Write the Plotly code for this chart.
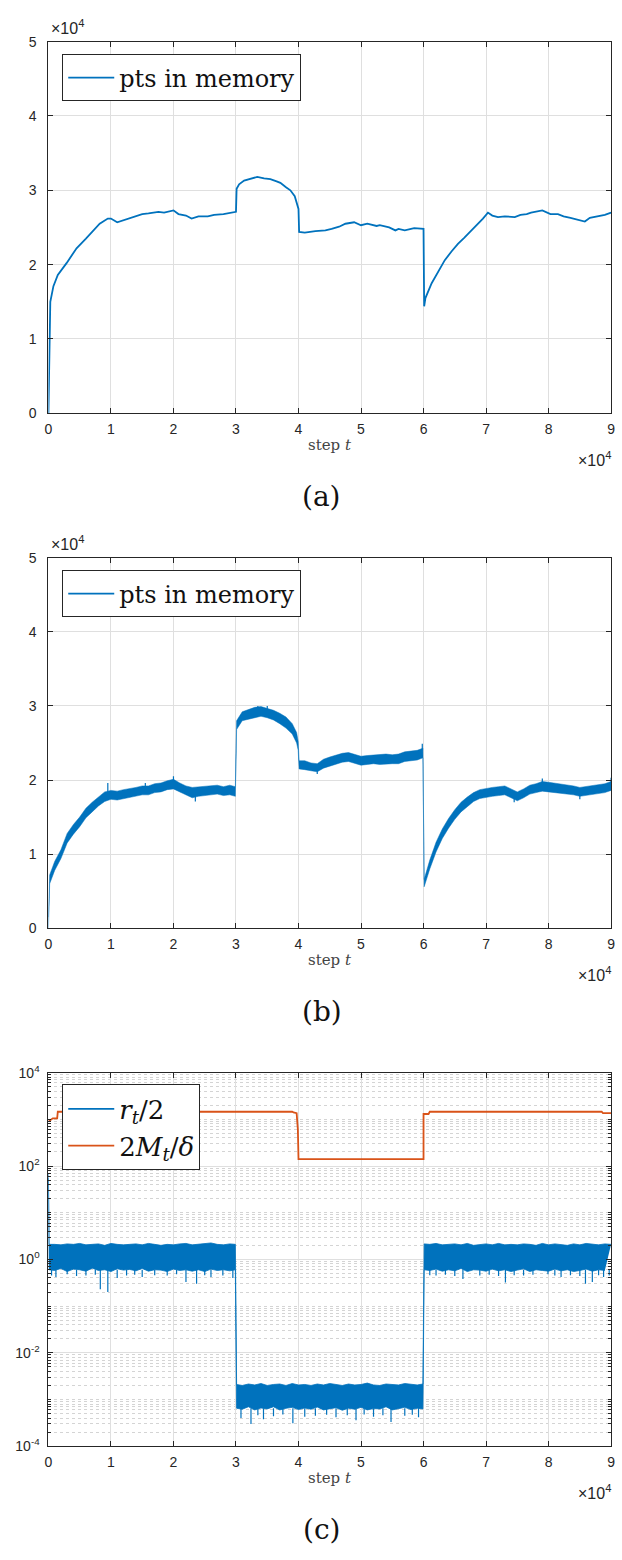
import plotly.graph_objects as go

# ---------------- data (t in units of 1e4 steps, (a)/(b) values in units of 1e4) ----------------
t_a = [0, 0.015, 0.03, 0.08, 0.15, 0.29, 0.45, 0.6, 0.82, 0.95, 1.0, 1.1, 1.2, 1.34, 1.5, 1.6, 1.76,
       1.85, 2.0, 2.08, 2.2, 2.29, 2.4, 2.55, 2.65, 2.8, 2.9, 2.98, 3.0, 3.01, 3.05, 3.13, 3.25,
       3.34, 3.45, 3.55, 3.65, 3.71, 3.8, 3.87, 3.94, 3.98, 4.0, 4.01, 4.1, 4.27, 4.43, 4.53, 4.65,
       4.75, 4.89, 5.0, 5.1, 5.25, 5.3, 5.45, 5.55, 5.6, 5.7, 5.85, 5.97, 6.0, 6.01, 6.03, 6.13,
       6.25, 6.34, 6.45, 6.55, 6.65, 6.71, 6.8, 6.87, 6.95, 7.03, 7.1, 7.19, 7.3, 7.46, 7.55, 7.65,
       7.72, 7.9, 8.03, 8.15, 8.24, 8.35, 8.5, 8.58, 8.66, 8.8, 8.9, 9.0]
pts_a = [0.0, 1.2, 1.5, 1.71, 1.86, 2.02, 2.22, 2.35, 2.55, 2.62, 2.62, 2.57, 2.60, 2.64, 2.68,
         2.69, 2.71, 2.70, 2.73, 2.68, 2.66, 2.62, 2.65, 2.65, 2.67, 2.68, 2.69, 2.70, 2.71, 3.02,
         3.08, 3.13, 3.16, 3.18, 3.16, 3.15, 3.12, 3.10, 3.04, 3.00, 2.92, 2.80, 2.75, 2.44, 2.43,
         2.45, 2.46, 2.48, 2.51, 2.55, 2.57, 2.53, 2.55, 2.52, 2.53, 2.50, 2.46, 2.48, 2.46, 2.49,
         2.48, 2.48, 1.44, 1.55, 1.75, 1.93, 2.06, 2.18, 2.28, 2.36, 2.41, 2.49, 2.55, 2.62, 2.70,
         2.66, 2.64, 2.65, 2.64, 2.67, 2.68, 2.70, 2.73, 2.68, 2.68, 2.65, 2.63, 2.60, 2.58, 2.63,
         2.65, 2.67, 2.70]

t_b = [0, 0.02, 0.1, 0.2, 0.3, 0.4, 0.5, 0.6, 0.7, 0.8, 0.9, 1.0, 1.1, 1.2, 1.3, 1.4, 1.5, 1.6,
       1.7, 1.8, 1.9, 2.0, 2.1, 2.2, 2.3, 2.4, 2.5, 2.6, 2.7, 2.8, 2.9, 2.99, 3.01, 3.1, 3.2, 3.3,
       3.4, 3.5, 3.6, 3.7, 3.8, 3.9, 3.97, 3.995, 4.01, 4.1, 4.2, 4.3, 4.4, 4.5, 4.6, 4.7, 4.8,
       4.9, 5.0, 5.1, 5.2, 5.3, 5.4, 5.5, 5.6, 5.7, 5.8, 5.9, 5.99, 6.01, 6.1, 6.2, 6.3, 6.4,
       6.5, 6.6, 6.7, 6.8, 6.9, 7.0, 7.1, 7.2, 7.3, 7.4, 7.5, 7.6, 7.7, 7.8, 7.9, 8.0, 8.1, 8.2,
       8.3, 8.4, 8.5, 8.6, 8.7, 8.8, 8.9, 9.0]
pts_b_hi = [0.15, 0.72, 0.90, 1.06, 1.28, 1.40, 1.50, 1.62, 1.70, 1.77, 1.84, 1.86, 1.85, 1.87,
            1.88, 1.90, 1.92, 1.92, 1.95, 1.96, 1.99, 2.01, 1.96, 1.92, 1.90, 1.91, 1.92, 1.92,
            1.93, 1.91, 1.93, 1.91, 2.80, 2.92, 2.95, 2.98, 2.99, 2.97, 2.94, 2.90, 2.85, 2.76,
            2.64, 2.52, 2.26, 2.26, 2.23, 2.22, 2.28, 2.31, 2.34, 2.36, 2.37, 2.35, 2.32, 2.33,
            2.34, 2.34, 2.35, 2.34, 2.35, 2.38, 2.39, 2.40, 2.43, 0.66, 0.92, 1.16, 1.34, 1.48,
            1.60, 1.70, 1.77, 1.83, 1.87, 1.89, 1.90, 1.91, 1.92, 1.88, 1.84, 1.88, 1.93, 1.95,
            1.98, 1.97, 1.96, 1.95, 1.94, 1.92, 1.90, 1.91, 1.93, 1.94, 1.95, 1.98]
pts_b_lo = [0.0, 0.60, 0.78, 0.94, 1.15, 1.27, 1.37, 1.49, 1.57, 1.65, 1.71, 1.74, 1.73, 1.75,
            1.76, 1.78, 1.80, 1.80, 1.83, 1.84, 1.87, 1.88, 1.84, 1.79, 1.76, 1.78, 1.79, 1.79,
            1.81, 1.79, 1.80, 1.78, 2.68, 2.80, 2.82, 2.85, 2.86, 2.84, 2.81, 2.76, 2.70, 2.62,
            2.50, 2.40, 2.15, 2.14, 2.12, 2.11, 2.16, 2.19, 2.22, 2.24, 2.25, 2.23, 2.20, 2.21,
            2.22, 2.21, 2.22, 2.22, 2.22, 2.25, 2.26, 2.27, 2.30, 0.56, 0.80, 1.03, 1.21, 1.35,
            1.47, 1.57, 1.64, 1.71, 1.75, 1.77, 1.78, 1.79, 1.80, 1.76, 1.72, 1.76, 1.81, 1.83,
            1.85, 1.84, 1.83, 1.82, 1.82, 1.80, 1.78, 1.79, 1.81, 1.82, 1.83, 1.86]
spike_b_t = [0.95, 1.55, 2.0, 2.35, 3.35, 3.5, 3.95, 4.3, 5.98, 7.45, 7.9, 8.5, 9.0]
spike_b_from = [1.84, 1.90, 1.98, 1.78, 2.97, 2.95, 2.60, 2.14, 2.40, 1.76, 1.96, 1.80, 1.96]
spike_b_to = [1.96, 1.96, 2.05, 1.71, 3.00, 3.00, 2.66, 2.08, 2.49, 1.70, 2.02, 1.74, 2.03]

t_c = [0, 0.01, 0.1, 0.2, 0.3, 0.4, 0.5, 0.6, 0.7, 0.8, 0.9, 1.0, 1.1, 1.2, 1.3, 1.4, 1.5, 1.6,
       1.7, 1.8, 1.9, 2.0, 2.1, 2.2, 2.3, 2.4, 2.5, 2.6, 2.7, 2.8, 2.9, 2.99, 3.01, 3.1, 3.2, 3.3,
       3.4, 3.5, 3.6, 3.7, 3.8, 3.9, 4.0, 4.1, 4.2, 4.3, 4.4, 4.5, 4.6, 4.7, 4.8, 4.9, 5.0, 5.1,
       5.2, 5.3, 5.4, 5.5, 5.6, 5.7, 5.8, 5.9, 5.99, 6.01, 6.1, 6.2, 6.3, 6.4, 6.5, 6.6, 6.7,
       6.8, 6.9, 7.0, 7.1, 7.2, 7.3, 7.4, 7.5, 7.6, 7.7, 7.8, 7.9, 8.0, 8.1, 8.2, 8.3, 8.4, 8.5,
       8.6, 8.7, 8.8, 8.9, 9.0]
r_hi = [70, 2.1, 2.1, 2.05, 2.15, 2.1, 2.2, 2.05, 2.1, 2.15, 2.0, 2.2, 2.1, 2.05, 2.1, 2.15,
        2.05, 2.2, 2.1, 2.0, 2.1, 2.05, 2.15, 2.2, 2.05, 2.1, 2.15, 2.25, 2.1, 2.05, 2.15, 2.1,
        2.1e-3, 2.0e-3, 2.15e-3, 2.05e-3, 2.2e-3, 2.0e-3, 2.1e-3, 2.15e-3, 2.0e-3, 2.2e-3,
        2.05e-3, 2.1e-3, 2.0e-3, 2.15e-3, 2.05e-3, 2.2e-3, 2.1e-3, 2.0e-3, 2.15e-3, 2.05e-3,
        2.1e-3, 2.25e-3, 2.05e-3, 2.0e-3, 2.15e-3, 2.1e-3, 2.05e-3, 2.2e-3, 2.1e-3, 2.05e-3,
        2.15e-3,
        2.15, 2.1, 2.2, 2.05, 2.1, 2.15, 2.05, 2.2, 2.0, 2.1, 2.15, 2.05, 2.2, 2.05, 2.1, 2.05,
        2.15, 2.1, 2.0, 2.2, 2.05, 2.15, 2.1, 2.0, 2.15, 2.05, 2.2, 2.1, 2.05, 2.15, 2.1]
r_lo = [55, 0.6, 0.58, 0.64, 0.55, 0.62, 0.6, 0.56, 0.65, 0.58, 0.6, 0.55, 0.63, 0.59, 0.61,
        0.57, 0.64, 0.56, 0.6, 0.59, 0.55, 0.62, 0.58, 0.6, 0.56, 0.6, 0.55, 0.62, 0.58, 0.6,
        0.57, 0.6,
        6.5e-4, 6.2e-4, 7.0e-4, 6.0e-4, 6.6e-4, 6.3e-4, 7.0e-4, 6.0e-4, 6.5e-4, 6.8e-4, 6.1e-4,
        6.6e-4, 6.2e-4, 6.9e-4, 6.0e-4, 6.4e-4, 6.7e-4, 5.9e-4, 6.5e-4, 6.2e-4, 6.8e-4, 6.0e-4,
        6.4e-4, 6.3e-4, 7.0e-4, 6.0e-4, 6.4e-4, 6.8e-4, 6.1e-4, 6.5e-4, 6.3e-4,
        0.6, 0.58, 0.62, 0.56, 0.6, 0.57, 0.64, 0.55, 0.6, 0.59, 0.56, 0.62, 0.57, 0.6, 0.55,
        0.59, 0.63, 0.55, 0.6, 0.58, 0.56, 0.62, 0.57, 0.6, 0.55, 0.58, 0.62, 0.56, 0.6, 0.58]
spike_c_t = [0.05, 0.12, 0.3, 0.45, 0.6, 0.75, 0.83, 0.95, 1.1, 1.25, 1.38, 1.5, 1.7, 1.9, 2.05,
             2.2, 2.37, 2.5, 2.6, 2.79, 2.95,
             3.08, 3.24, 3.35, 3.44, 3.6, 3.75, 3.91, 4.1, 4.27, 4.45, 4.6, 4.78, 4.92, 5.05,
             5.2, 5.35, 5.48, 5.7, 5.82, 5.92,
             6.1, 6.2, 6.35, 6.5, 6.63, 6.9, 7.05, 7.2, 7.31, 7.45, 7.6, 7.75, 7.99, 8.1, 8.2,
             8.35, 8.5, 8.59, 8.7, 8.8, 8.88, 8.97]
spike_c_from = [0.6] * 21 + [6.5e-4] * 20 + [0.6] * 22
spike_c_to = [0.45, 0.42, 0.48, 0.44, 0.45, 0.47, 0.23, 0.2, 0.4, 0.45, 0.47, 0.42, 0.46, 0.45,
              0.48, 0.33, 0.3, 0.46, 0.42, 0.45, 0.4,
              4.0e-4, 3.0e-4, 4.6e-4, 3.8e-4, 4.4e-4, 4.8e-4, 3.1e-4, 4.3e-4, 4.5e-4, 4.7e-4,
              4.2e-4, 4.6e-4, 3.6e-4, 4.8e-4, 4.3e-4, 4.6e-4, 3.3e-4, 4.5e-4, 4.7e-4, 4.2e-4,
              0.46, 0.45, 0.47, 0.44, 0.38, 0.45, 0.47, 0.44, 0.32, 0.46, 0.45, 0.47, 0.48, 0.45,
              0.42, 0.46, 0.44, 0.3, 0.33, 0.46, 0.42, 0.45]

t_m = [0, 0.06, 0.07, 0.14, 0.15, 3.9, 3.92, 3.97, 3.99, 4.0, 6.0, 6.0, 6.08, 6.1, 8.85, 8.87, 9.0]
m_val = [900, 1000, 1050, 1050, 1450, 1450, 1400, 1350, 600, 140, 140, 1300, 1300, 1450, 1450,
         1350, 1350]

x_ticks = [0, 1, 2, 3, 4, 5, 6, 7, 8, 9]
y_ticks_lin = [0, 1, 2, 3, 4, 5]
y_ticks_log = [1e-4, 1e-2, 1, 1e2, 1e4]
y_ticktext_log = ["10<sup>-4</sup>", "10<sup>-2</sup>", "10<sup>0</sup>", "10<sup>2</sup>", "10<sup>4</sup>"]

# ---------------- styling ----------------
BLUE = "#0072BD"
ORANGE = "#D95319"
AX = "#262626"
GRID = "#dfdfdf"
SANS = "Liberation Sans, Arial, sans-serif"
SERIF = "DejaVu Serif, Liberation Serif, serif"
W, H = 622, 1560

def py(p):
    return 1 - p / H

fig = go.Figure()

# (a)
fig.add_trace(go.Scatter(x=t_a, y=pts_a, mode="lines", line=dict(color=BLUE, width=1.8),
                         name="pts in memory", xaxis="x", yaxis="y", legend="legend"))

# (b)
fig.add_trace(go.Scatter(x=t_b, y=pts_b_lo, mode="lines", line=dict(color=BLUE, width=0.5),
                         showlegend=False, xaxis="x2", yaxis="y2", hoverinfo="skip"))
fig.add_trace(go.Scatter(x=t_b, y=pts_b_hi, mode="lines", line=dict(color=BLUE, width=0.5),
                         fill="tonexty", fillcolor=BLUE, showlegend=False, xaxis="x2", yaxis="y2"))
sx, sy = [], []
for t, a, b in zip(spike_b_t, spike_b_from, spike_b_to):
    sx += [t, t, None]
    sy += [a, b, None]
fig.add_trace(go.Scatter(x=sx, y=sy, mode="lines", line=dict(color=BLUE, width=1.2),
                         showlegend=False, xaxis="x2", yaxis="y2", hoverinfo="skip"))
fig.add_trace(go.Scatter(x=[None], y=[None], mode="lines", line=dict(color=BLUE, width=1.8),
                         name="pts in memory", xaxis="x2", yaxis="y2", legend="legend2"))

# (c)
fig.add_trace(go.Scatter(x=t_c, y=r_lo, mode="lines", line=dict(color=BLUE, width=0.8),
                         showlegend=False, xaxis="x3", yaxis="y3", hoverinfo="skip"))
fig.add_trace(go.Scatter(x=t_c, y=r_hi, mode="lines", line=dict(color=BLUE, width=0.8),
                         fill="tonexty", fillcolor=BLUE, showlegend=False, xaxis="x3", yaxis="y3"))
sx, sy = [], []
for t, a, b in zip(spike_c_t, spike_c_from, spike_c_to):
    sx += [t, t, None]
    sy += [a, b, None]
fig.add_trace(go.Scatter(x=sx, y=sy, mode="lines", line=dict(color=BLUE, width=1.2),
                         showlegend=False, xaxis="x3", yaxis="y3", hoverinfo="skip"))
fig.add_trace(go.Scatter(x=[None], y=[None], mode="lines", line=dict(color=BLUE, width=1.8),
                         name="<i>r</i><sub><i>t</i></sub>/2", xaxis="x3", yaxis="y3", legend="legend3"))
fig.add_trace(go.Scatter(x=t_m, y=m_val, mode="lines", line=dict(color=ORANGE, width=1.8),
                         name="2<i>M</i><sub><i>t</i></sub>/<i>δ</i>", xaxis="x3", yaxis="y3",
                         legend="legend3"))

xdom = [45 / W, 615 / W]
panels = [(32, 408), (554, 929), (1075, 1453)]
TICKFONT = dict(family=SANS, size=14, color=AX)

def xaxis_def(anchor):
    return dict(domain=xdom, anchor=anchor, range=[0, 9], tickmode="array", tickvals=x_ticks,
                ticktext=[str(v) for v in x_ticks], showgrid=True, gridcolor=GRID, gridwidth=1,
                zeroline=False, showline=True, linecolor=AX, linewidth=1, mirror="allticks",
                ticks="inside", ticklen=5, tickcolor=AX, ticklabelstandoff=3, tickfont=TICKFONT)

def yaxis_lin(anchor, dom):
    return dict(domain=dom, anchor=anchor, range=[0, 5], tickmode="array", tickvals=y_ticks_lin,
                ticktext=[str(v) for v in y_ticks_lin], showgrid=True, gridcolor=GRID, gridwidth=1,
                zeroline=False, showline=True, linecolor=AX, linewidth=1, mirror="allticks",
                ticks="inside", ticklen=5, tickcolor=AX, ticklabelstandoff=8, tickfont=TICKFONT)

minor_vals = []
for e in range(-4, 4):
    for m in range(1, 10):
        if m == 1 and e % 2 == 0:
            continue
        minor_vals.append(m * 10 ** e)

LEGFONT = dict(family=SERIF, size=24, color="#111")

layout = dict(
    width=W, height=H, margin=dict(l=0, r=0, t=0, b=0),
    paper_bgcolor="white", plot_bgcolor="white",
    xaxis=xaxis_def("y"),
    yaxis=yaxis_lin("x", [py(panels[0][1]), py(panels[0][0])]),
    xaxis2=xaxis_def("y2"),
    yaxis2=yaxis_lin("x2", [py(panels[1][1]), py(panels[1][0])]),
    xaxis3=xaxis_def("y3"),
    yaxis3=dict(domain=[py(panels[2][1]), py(panels[2][0])], anchor="x3", type="log",
                range=[-4, 4], tickmode="array", tickvals=y_ticks_log, ticktext=y_ticktext_log,
                showgrid=True, gridcolor=GRID, gridwidth=1, zeroline=False, showline=True,
                linecolor=AX, linewidth=1, mirror="allticks", ticks="inside", ticklen=5,
                tickcolor=AX, ticklabelstandoff=5, tickfont=TICKFONT,
                minor=dict(tickmode="array", tickvals=minor_vals, showgrid=True,
                           gridcolor="#d4d4d4", griddash="dot", gridwidth=1,
                           ticks="inside", ticklen=3, tickcolor=AX)),
    showlegend=True,
    legend=dict(x=59 / W, y=py(45), xanchor="left", yanchor="top", bgcolor="white",
                bordercolor=AX, borderwidth=1, font=LEGFONT, itemwidth=46, tracegroupgap=0),
    legend2=dict(x=59 / W, y=py(567), xanchor="left", yanchor="top", bgcolor="white",
                 bordercolor=AX, borderwidth=1, font=LEGFONT, itemwidth=46, tracegroupgap=0),
    legend3=dict(x=59 / W, y=py(1087), xanchor="left", yanchor="top", bgcolor="white",
                 bordercolor=AX, borderwidth=1, font=dict(family=SERIF, size=26, color="#111"),
                 itemwidth=46, tracegroupgap=0),
)
fig.update_layout(**layout)

annots = []
for i, ((top, bot), lab) in enumerate(zip(panels, ["(a)", "(b)", "(c)"])):
    if i < 2:
        annots.append(dict(text="×10<sup>4</sup>", x=46 / W, y=py(top - 3), xref="paper",
                           yref="paper", xanchor="left", yanchor="bottom", showarrow=False,
                           font=dict(family=SANS, size=16, color=AX)))
    annots.append(dict(text="×10<sup>4</sup>", x=617 / W, y=py(bot + 46), xref="paper", yref="paper",
                       xanchor="right", yanchor="middle", showarrow=False,
                       font=dict(family=SANS, size=16, color=AX)))
    annots.append(dict(text="step <i>t</i>", x=330 / W, y=py(bot + 32), xref="paper", yref="paper",
                       xanchor="center", yanchor="middle", showarrow=False,
                       font=dict(family=SERIF, size=15, color="#444")))
    annots.append(dict(text=lab, x=322 / W, y=py(bot + 84), xref="paper", yref="paper",
                       xanchor="center", yanchor="middle", showarrow=False,
                       font=dict(family=SERIF, size=28, color="#111")))
fig.update_layout(annotations=annots)

fig.write_html("out.html")
